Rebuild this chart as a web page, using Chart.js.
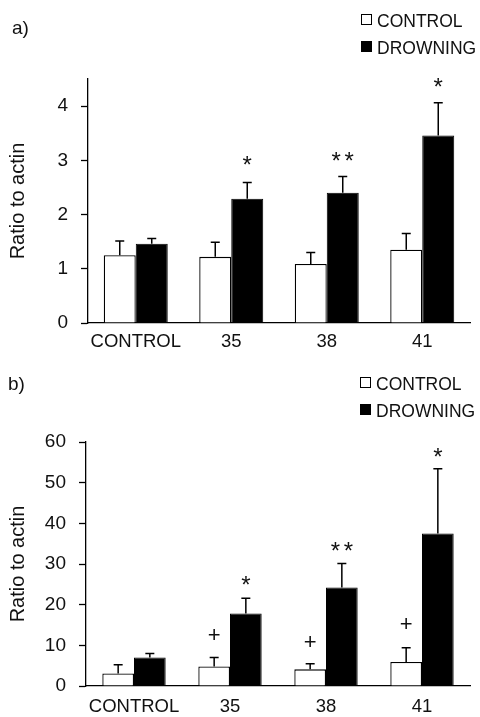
<!DOCTYPE html>
<html>
<head>
<meta charset="utf-8">
<script src="https://cdn.jsdelivr.net/npm/chart.js@4/dist/chart.umd.min.js"></script>
<style>
  html, body { margin: 0; padding: 0; background: #fff; }
  #wrap { position: relative; width: 480px; height: 717px; }
  canvas { position: absolute; left: 0; }
</style>
</head>
<body>
<div id="wrap">
  <canvas id="ca" width="480" height="358" style="top:0"></canvas>
  <canvas id="cb" width="480" height="359" style="top:358px"></canvas>
</div>
<script>
// ---------- data ----------
const categories = ['CONTROL', '35', '38', '41'];
const seriesNames = ['CONTROL', 'DROWNING'];

// panel a)
const aControl = [1.25, 1.22, 1.09, 1.35];
const aControlErr = [0.26, 0.27, 0.21, 0.30];
const aDrowning = [1.46, 2.29, 2.40, 3.46];
const aDrowningErr = [0.10, 0.30, 0.30, 0.60];
const aControlMarks = ['', '', '', ''];
const aControlMarkY = [null, null, null, null];
const aDrowningMarks = ['', '*', '**', '*'];
const aDrowningMarkY = [null, 3.01, 3.09, 4.45];
const aYMax = 4.5, aYStep = 1;

// panel b)
const bControl = [3.1, 4.8, 4.1, 5.9];
const bControlErr = [2.1, 2.2, 1.4, 3.5];
const bDrowning = [7.0, 17.8, 24.2, 37.5];
const bDrowningErr = [1.0, 3.8, 5.9, 15.9];
const bControlMarks = ['', '+', '+', '+'];
const bControlMarkY = [null, 12.2, 10.5, 14.9];
const bDrowningMarks = ['', '*', '**', '*'];
const bDrowningMarkY = [null, 26.3, 34.6, 57.7];
const bYMax = 60, bYStep = 10;

const yTitle = 'Ratio to actin';
const panelLabels = ['a)', 'b)'];

// ---------- styling ----------
const FN = '"Liberation Sans", Arial, sans-serif';
const FR = '"Liberation Sans", Arial, sans-serif';
const INK = '#111';
Chart.defaults.font.family = FN;
Chart.defaults.color = INK;

const annotPlugin = {
  id: 'annot',
  afterDatasetsDraw(chart) {
    const ctx = chart.ctx, ys = chart.scales.y;
    ctx.save();
    chart.data.datasets.forEach((ds, di) => {
      const meta = chart.getDatasetMeta(di);
      meta.data.forEach((bar, i) => {
        const top = ys.getPixelForValue(ds.data[i] + ds.errors[i]);
        ctx.strokeStyle = '#000';
        ctx.lineWidth = 1.5;
        ctx.beginPath();
        ctx.moveTo(bar.x, bar.y);
        ctx.lineTo(bar.x, top);
        ctx.moveTo(bar.x - 4.5, top);
        ctx.lineTo(bar.x + 4.5, top);
        ctx.stroke();
        const m = ds.marks[i];
        if (m) {
          const my = ys.getPixelForValue(ds.markY[i]);
          ctx.fillStyle = INK;
          ctx.textAlign = 'center';
          ctx.textBaseline = 'middle';
          if (m === '+') {
            ctx.font = '22px ' + FR;
            ctx.fillText('+', bar.x, my);
          } else {
            ctx.font = '24px ' + FR;
            const n = m.length, sp = 13;
            for (let k = 0; k < n; k++) {
              ctx.fillText('*', bar.x + (k - (n - 1) / 2) * sp, my + 7);
            }
          }
        }
      });
    });
    ctx.restore();
  }
};

const legendPlugin = {
  id: 'legendBox',
  afterDraw(chart, args, o) {
    const ctx = chart.ctx;
    ctx.save();
    ctx.fillStyle = INK;
    ctx.font = '19px ' + FN;
    ctx.textAlign = 'left';
    ctx.textBaseline = 'alphabetic';
    ctx.fillText(o.panel, o.panelX, o.panelY);
    chart.data.datasets.forEach((ds, di) => {
      const by = o.rows[di];
      ctx.fillStyle = ds.backgroundColor;
      ctx.strokeStyle = '#000';
      ctx.lineWidth = 1;
      ctx.fillRect(o.boxX, by - 13, 11, 11);
      ctx.strokeRect(o.boxX + 0.5, by - 12.5, 10, 10);
      ctx.fillStyle = INK;
      ctx.font = '17.5px ' + FN;
      ctx.fillText(ds.label, o.boxX + 16, by);
    });
    ctx.restore();
  }
};

function makeChart(id, cfg) {
  return new Chart(document.getElementById(id), {
    type: 'bar',
    data: {
      labels: categories,
      datasets: [
        { label: seriesNames[0], data: cfg.control, errors: cfg.controlErr,
          marks: cfg.controlMarks, markY: cfg.controlMarkY,
          backgroundColor: '#ffffff', borderColor: '#000', borderWidth: 1.3 },
        { label: seriesNames[1], data: cfg.drowning, errors: cfg.drowningErr,
          marks: cfg.drowningMarks, markY: cfg.drowningMarkY,
          backgroundColor: '#000000', borderColor: '#000', borderWidth: 1 }
      ]
    },
    options: {
      responsive: false,
      animation: false,
      devicePixelRatio: 1,
      categoryPercentage: cfg.catPct,
      barPercentage: 1.0,
      layout: { padding: cfg.padding },
      plugins: {
        legend: { display: false },
        tooltip: { enabled: false },
        legendBox: cfg.legend
      },
      scales: {
        x: {
          grid: { display: true, drawOnChartArea: false, drawTicks: false },
          border: { display: true, color: '#000', width: 1.3 },
          ticks: { font: { size: 18.5, family: FN }, padding: cfg.xPad, color: INK, maxRotation: 0, autoSkip: false },
          afterFit: s => { s.height = 30; }
        },
        y: {
          min: 0, max: cfg.yMax,
          grid: { display: true, drawOnChartArea: false, drawTicks: true, tickLength: 7, tickColor: '#000', tickWidth: 1.3 },
          border: { display: true, color: '#000', width: 1.3 },
          ticks: { stepSize: cfg.yStep, includeBounds: false, font: { size: 19, family: FN }, padding: 13, color: INK },
          title: { display: true, text: yTitle, color: INK, font: { size: 20, family: FR }, padding: { top: 6, bottom: 0 } },
          afterFit: s => { s.width = cfg.yWidth; }
        }
      }
    },
    plugins: [annotPlugin, legendPlugin]
  });
}

makeChart('ca', {
  control: aControl, controlErr: aControlErr, controlMarks: aControlMarks, controlMarkY: aControlMarkY,
  drowning: aDrowning, drowningErr: aDrowningErr, drowningMarks: aDrowningMarks, drowningMarkY: aDrowningMarkY,
  yMax: aYMax, yStep: aYStep, yWidth: 88, catPct: 0.67, xPad: 8,
  padding: { top: 79, right: 10, bottom: 5, left: 0 },
  legend: { panel: panelLabels[0], panelX: 12, panelY: 34, boxX: 361, rows: [27, 54] }
});

makeChart('cb', {
  control: bControl, controlErr: bControlErr, controlMarks: bControlMarks, controlMarkY: bControlMarkY,
  drowning: bDrowning, drowningErr: bDrowningErr, drowningMarks: bDrowningMarks, drowningMarkY: bDrowningMarkY,
  yMax: bYMax, yStep: bYStep, yWidth: 86, catPct: 0.66, xPad: 10,
  padding: { top: 84, right: 10, bottom: 1, left: 0 },
  legend: { panel: panelLabels[1], panelX: 8, panelY: 32, boxX: 360, rows: [32, 59] }
});
</script>
</body>
</html>
